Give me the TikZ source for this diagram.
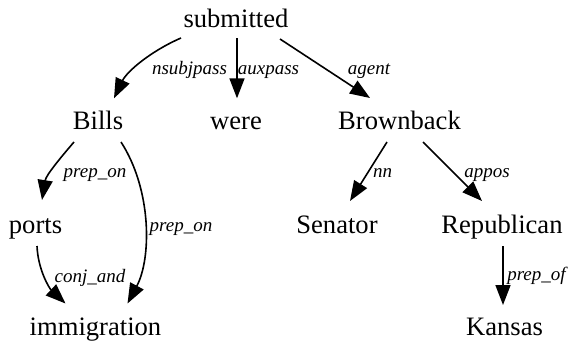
\documentclass[tikz,border=0pt]{standalone}
\usepackage{fontspec}
\setmainfont{Liberation Serif}
\usetikzlibrary{arrows.meta}
\begin{document}
\begin{tikzpicture}[x=1pt,y=-1pt,
  word/.style={inner sep=0pt,anchor=base,font=\fontsize{26.6}{30}\selectfont},
  lbl/.style={inner sep=0pt,anchor=base,font=\fontsize{19}{22}\selectfont\itshape},
  dep/.style={line width=1.6pt,-{Triangle[length=20pt,width=15pt]}}]
\useasboundingbox (0,0) rectangle (570,341);
% words
\node[word] (submitted) at (236,27) {submitted};
\node[word] (bills) at (98,129.3) {Bills};
\node[word] (were) at (236,129.3) {were};
\node[word] (brownback) at (399.5,129.5) {Brownback};
\node[word] (ports) at (35.5,233) {ports};
\node[word] (senator) at (337,233) {Senator};
\node[word] (republican) at (502,233) {Republican};
\node[word] (immigration) at (95.5,335.5) {immigration};
\node[word] (kansas) at (504.5,335.5) {Kansas};
% labels
\node[lbl] (lnsubj) at (189.5,74) {nsubjpass};
\node[lbl] (laux) at (268.5,74) {auxpass};
\node[lbl] (lagent) at (369,74) {agent};
\node[lbl] (lprep1) at (95,177) {prep\_on};
\node[lbl] (lprep2) at (181,231) {prep\_on};
\node[lbl] (lconj) at (90,282) {conj\_and};
\node[lbl] (lnn) at (382.5,177) {nn};
\node[lbl] (lappos) at (487,177) {appos};
\node[lbl] (lprepof) at (536.5,280) {prep\_of};
% edges
\draw[dep] ([shift={(-55,11)}]submitted.base) .. controls +(-30,13) and +(13,-27) .. ([shift={(16,-31)}]bills.base);
\draw[dep] ([shift={(1,11)}]submitted.base) -- ([shift={(1,-31)}]were.base);
\draw[dep] ([shift={(44,12)}]submitted.base) -- ([shift={(-29.5,-31.5)}]brownback.base);
\draw[dep] ([shift={(-24,12.7)}]bills.base) .. controls +(-12,14) and +(4,-25) .. ([shift={(6.5,-33)}]ports.base);
\draw[dep] ([shift={(23,12.7)}]bills.base) .. controls +(31,48) and +(24,-45) .. ([shift={(32,-32)}]immigration.base);
\draw[dep] ([shift={(1.5,13)}]ports.base) .. controls +(1,24) and +(-16,-15) .. ([shift={(-30,-32)}]immigration.base);
\draw[dep] ([shift={(-12.5,12.5)}]brownback.base) -- ([shift={(13,-32)}]senator.base);
\draw[dep] ([shift={(23.5,12.5)}]brownback.base) -- ([shift={(-20,-32)}]republican.base);
\draw[dep] ([shift={(1,13)}]republican.base) -- ([shift={(-1.5,-30.5)}]kansas.base);
\end{tikzpicture}
\end{document}
